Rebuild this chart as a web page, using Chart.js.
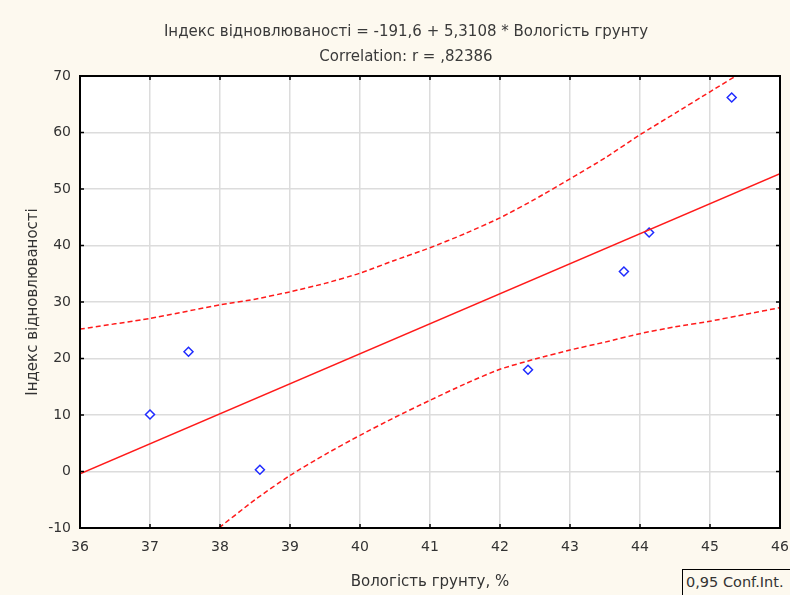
<!DOCTYPE html>
<html>
<head>
<meta charset="utf-8">
<script src="https://cdn.jsdelivr.net/npm/chart.js@4"></script>
<style>
html,body{margin:0;padding:0;background:#fdf9ef;}
#wrap{position:relative;width:790px;height:595px;overflow:hidden;}
canvas{display:block;}
#leg{position:absolute;left:682px;top:569px;width:120px;height:30px;border:1.5px solid #000;box-sizing:border-box;font:14.5px "DejaVu Sans",sans-serif;color:#333;padding:4px 0 0 3px;background:#fdf9ef;white-space:nowrap;}
</style>
</head>
<body>
<div id="wrap"><canvas id="c" width="790" height="595"></canvas><div id="leg">0,95 Conf.Int.</div></div>
<script>
// Observed data
const moisture = [37.0, 37.55, 38.57, 42.4, 43.77, 44.13, 45.31];
const recovery = [10.1, 21.2, 0.3, 18.0, 35.4, 42.3, 66.2];
// Regression line endpoints (y = -191.6 + 5.3108x)
const fitX = [36, 46];
const fitY = [-0.4, 52.7];
// 95% confidence bands
const upperX = [36, 37, 38, 38.5, 39, 39.5, 40, 40.5, 41, 41.5, 42, 42.5, 43, 43.5, 44, 44.5, 45, 45.5, 46];
const upperY = [25.2, 27.1, 29.5, 30.5, 31.8, 33.3, 35.1, 37.4, 39.6, 42.1, 44.9, 48.2, 51.8, 55.5, 59.6, 63.4, 67.2, 71.0, 74.8];
const lowerX = [37.9, 38.5, 39, 39.5, 40, 40.5, 41, 41.5, 42, 42.5, 43, 43.5, 44, 44.5, 45, 45.5, 46];
const lowerY = [-10.8, -5.0, -0.7, 3.0, 6.4, 9.6, 12.6, 15.5, 18.1, 19.9, 21.5, 22.9, 24.4, 25.6, 26.6, 27.8, 29.0];
// Ticks
const xTicks = [36, 37, 38, 39, 40, 41, 42, 43, 44, 45, 46];
const yTicks = [-10, 0, 10, 20, 30, 40, 50, 60, 70];
const titleLines = ['Індекс відновлюваності = -191,6 + 5,3108 * Вологість грунту', 'Correlation: r = ,82386'];
const xTitle = 'Вологість грунту, %';
const yTitle = 'Індекс відновлюваності';

const zip = (a, b) => a.map((v, i) => ({x: v, y: b[i]}));
const FONT = '"DejaVu Sans", sans-serif';

const framePlugin = {
  id: 'frame',
  beforeDraw(chart) {
    const {ctx, chartArea: a} = chart;
    ctx.save();
    ctx.fillStyle = '#fdf9ef';
    ctx.fillRect(0, 0, chart.width, chart.height);
    ctx.fillStyle = '#ffffff';
    ctx.fillRect(a.left, a.top, a.right - a.left, a.bottom - a.top);
    ctx.restore();
  },
  afterDraw(chart) {
    const {ctx, chartArea: a, scales} = chart;
    ctx.save();
    ctx.strokeStyle = '#000';
    ctx.lineWidth = 2;
    ctx.strokeRect(a.left, a.top, a.right - a.left, a.bottom - a.top);
    ctx.lineWidth = 1.5;
    const L = 4;
    ctx.beginPath();
    xTicks.forEach(v => {
      const px = scales.x.getPixelForValue(v);
      ctx.moveTo(px, a.bottom); ctx.lineTo(px, a.bottom - L);
      ctx.moveTo(px, a.top); ctx.lineTo(px, a.top + L);
    });
    yTicks.forEach(v => {
      const py = scales.y.getPixelForValue(v);
      ctx.moveTo(a.left, py); ctx.lineTo(a.left + L, py);
      ctx.moveTo(a.right, py); ctx.lineTo(a.right - L, py);
    });
    ctx.stroke();
    ctx.restore();
  }
};

new Chart(document.getElementById('c'), {
  type: 'scatter',
  data: {
    datasets: [
      {data: zip(upperX, upperY), showLine: true, borderColor: '#ff1a1a', borderWidth: 1.5, borderDash: [5, 3], pointRadius: 0, fill: false, tension: 0.2},
      {data: zip(lowerX, lowerY), showLine: true, borderColor: '#ff1a1a', borderWidth: 1.5, borderDash: [5, 3], pointRadius: 0, fill: false, tension: 0.2},
      {data: zip(fitX, fitY), showLine: true, borderColor: '#ff1a1a', borderWidth: 1.5, pointRadius: 0, fill: false},
      {data: zip(moisture, recovery), showLine: false, pointStyle: 'rectRot', pointRadius: 4.5, borderColor: '#1f2bff', borderWidth: 1.5, backgroundColor: '#ffffff'}
    ]
  },
  options: {
    responsive: false,
    animation: false,
    layout: {padding: {left: 22, right: 0, top: 0, bottom: 0}},
    plugins: {
      legend: {display: false},
      tooltip: {enabled: false},
      title: {display: true, text: titleLines, color: '#3a3a3a', font: {family: FONT, size: 15, weight: 'normal', lineHeight: 1.667}, padding: {top: 20, bottom: 6}}
    },
    scales: {
      x: {
        type: 'linear', min: 36, max: 46,
        afterBuildTicks: s => { s.ticks = xTicks.map(v => ({value: v})); },
        afterFit: s => { s.height = 67; s.paddingLeft = 0; s.paddingRight = 10; },
        ticks: {color: '#333', font: {family: FONT, size: 14}, padding: 11},
        grid: {color: '#dcdcdc', lineWidth: 1.5, drawTicks: false},
        border: {display: false},
        title: {display: true, text: xTitle, color: '#333', font: {family: FONT, size: 15}, padding: {top: 12, bottom: 4}}
      },
      y: {
        type: 'linear', min: -10, max: 70,
        afterBuildTicks: s => { s.ticks = yTicks.map(v => ({value: v})); },
        afterFit: s => { s.width = 58; },
        ticks: {color: '#333', font: {family: FONT, size: 14}, padding: 9},
        grid: {color: '#dcdcdc', lineWidth: 1.5, drawTicks: false},
        border: {display: false},
        title: {display: true, text: yTitle, color: '#333', font: {family: FONT, size: 15}, padding: {top: 2, bottom: 0}}
      }
    }
  },
  plugins: [framePlugin]
});
</script>
</body>
</html>
